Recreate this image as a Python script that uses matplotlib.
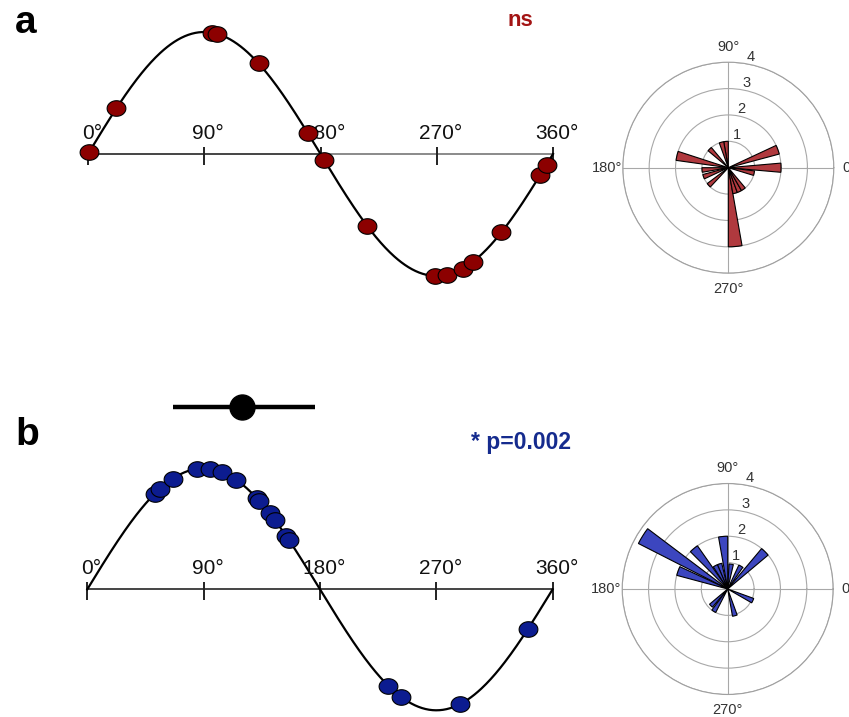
import matplotlib
matplotlib.use("Agg")
import matplotlib.pyplot as plt
import numpy as np
from matplotlib.path import Path

plt.rcParams['font.family'] = ['Liberation Sans', 'DejaVu Sans']

# phases (deg) of the individual units, panel a and b
phase_a = [1, 22, 96, 100, 132, 170, 183, 216, 269, 278, 290, 298, 320, 350, 355]
phase_b = [52, 56, 66, 85, 95, 104, 115, 131, 133, 141, 145, 154, 156, 233, 243, 288, 341]

# population mean phase and its spread (panel b)
mean_b = 120
spread_b = [66, 176]

# rose histograms: bin centres (deg) and counts
rose_a_bins = [0, 20, 95, 105, 135, 167, 185, 200, 222, 275, 285, 295, 305, 348]
rose_a_counts = [2, 2, 1, 1, 1, 2, 1, 1, 1, 3, 1, 1, 1, 1]
rose_b_bins = [45, 60, 82, 95, 108, 118, 130, 148, 160, 225, 238, 285, 335]
rose_b_counts = [2, 1, 0.95, 2, 1, 1, 2, 3.8, 2, 0.9, 1, 1.05, 1.05]

ticks = [0, 90, 180, 270, 360]
tick_labels = ['0°', '90°', '180°', '270°', '360°']

W, H = 849, 717
fig = plt.figure(figsize=(W / 100, H / 100), dpi=100)

# ellipse marker, a bit wider than tall
t = np.linspace(0, 2 * np.pi, 60)
ellipse = Path(np.column_stack([np.cos(t), 0.83 * np.sin(t)]))


def px_axes(left, top, right, bottom, **kw):
    return fig.add_axes([left / W, 1 - bottom / H, (right - left) / W, (bottom - top) / H], **kw)


def sine_panel(box, x0, xscale, y0, amp, phases, color, split_axis=False):
    left, top, right, bottom = box
    ax = px_axes(left, top, right, bottom)
    ax.set_xlim((left - x0) / xscale, (right - x0) / xscale)
    ax.set_ylim(-(bottom - y0) / amp, (y0 - top) / amp)
    ax.axis('off')
    xx = np.linspace(0, 360, 400)
    ax.plot(xx, np.sin(np.deg2rad(xx)), color='black', lw=1.6, zorder=2)
    if split_axis:
        ax.plot([0, 180], [0, 0], color='#444444', lw=1.4, zorder=1)
        ax.plot([180, 360], [0, 0], color='#8a8a8a', lw=1.4, zorder=1)
    else:
        ax.plot([0, 360], [0, 0], color='#444444', lw=1.4, zorder=1)
    ax.vlines(ticks, -11 / amp, 7 / amp, color='#222222', lw=1.4, zorder=1)
    for tk, lab in zip(ticks, tick_labels):
        ax.text(tk + 3, 11 / amp, lab, ha='center', va='bottom', fontsize=15, color='#111111')
    ph = np.array(phases, dtype=float)
    ax.plot(ph, np.sin(np.deg2rad(ph)), ls='none', marker=ellipse, ms=13.5,
            mfc=color, mec='black', mew=0.8, zorder=3)
    return ax


def rose_panel(cx, cy, r, bins, counts, color):
    ax = px_axes(cx - r, cy - r, cx + r, cy + r, projection='polar')
    ax.bar(np.deg2rad(bins), counts, width=np.deg2rad(10), bottom=0,
           color=color, edgecolor='black', linewidth=0.8, zorder=3)
    ax.set_ylim(0, 4)
    ax.set_yticks([1, 2, 3, 4])
    ax.set_yticklabels(['1', '2', '3', '4'], fontsize=10.5, color='#333333')
    ax.set_rlabel_position(80)
    ax.set_thetagrids([0, 90, 180, 270], ['0°', '90°', '180°', '270°'], fontsize=10.5, color='#333333')
    ax.tick_params(axis='x', pad=0.8)
    ax.grid(True, color='#a8a8a8', lw=0.8)
    ax.spines['polar'].set_color('#a0a0a0')
    ax.spines['polar'].set_linewidth(0.8)
    ax.set_axisbelow(True)
    return ax


# panel a
sine_panel((50, 5, 600, 300), 88, 1.2917, 154, 122, phase_a, '#8c0000', split_axis=True)
rose_panel(728.3, 167.7, 105.5, rose_a_bins, rose_a_counts, '#b0393e')
fig.text(15 / W, 1 - 33 / H, 'a', fontsize=28, fontweight='bold', ha='left', va='baseline')
fig.text(520 / W, 1 - 21 / H, 'ns', fontsize=16, fontweight='bold', color='#a31414',
         ha='center', va='center')

# panel b
axb = sine_panel((50, 380, 600, 717), 87.3, 1.2926, 589.3, 121, phase_b, '#0c1c90')
axb.plot(spread_b, [1.509, 1.509], color='black', lw=3.2, solid_capstyle='butt', zorder=4)
axb.plot([mean_b], [1.509], marker='o', ms=18, color='black', zorder=5)
rose_panel(727.7, 589, 105.5, rose_b_bins, rose_b_counts, '#3c46bf')
fig.text(15 / W, 1 - 445 / H, 'b', fontsize=28, fontweight='bold', ha='left', va='baseline')
fig.text(521 / W, 1 - 443 / H, '* p=0.002', fontsize=16.5, fontweight='bold', color='#152b8e',
         ha='center', va='center')

fig.savefig('out.png', dpi=100)
